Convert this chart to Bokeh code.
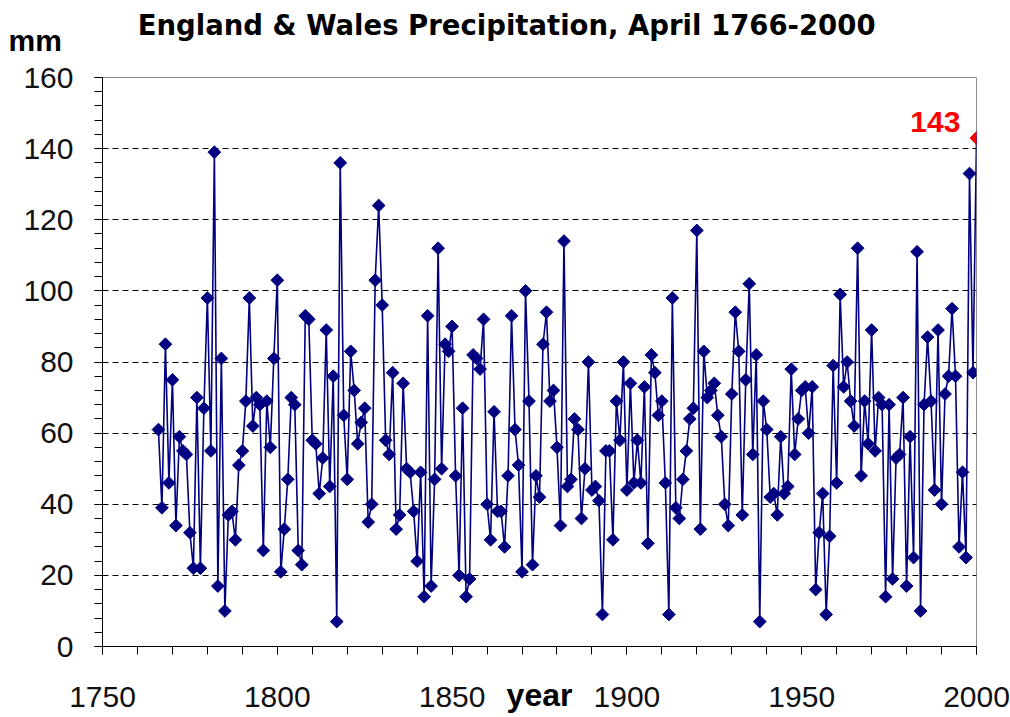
import math
from bokeh.plotting import figure
from bokeh.models import Range1d, FixedTicker, Label, ColumnDataSource
from bokeh.embed import file_html
from bokeh.resources import INLINE

# ---- data -------------------------------------------------------------
years = list(range(1766, 2001))
rain_mm = [
    61, 39, 85, 46,                                   # 1766-1769
    75, 34, 59, 55, 54, 32, 22, 70, 22, 67,           # 1770s
    98, 55, 139, 17, 81, 10, 37, 38, 30, 51,          # 1780s
    55, 69, 98, 62, 70, 68, 27, 69, 56, 81,           # 1790s
    103, 21, 33, 47, 70, 68, 27, 23, 93, 92,          # 1800s
    58, 57, 43, 53, 89, 45, 76, 7, 136, 65,           # 1810s
    47, 83, 72, 57, 63, 67, 35, 40, 103, 124,         # 1820s
    96, 58, 54, 77, 33, 37, 74, 50, 49, 38,           # 1830s
    24, 49, 14, 93, 17, 47, 112, 50, 85, 83,          # 1840s
    90, 48, 20, 67, 14, 19, 82, 81, 78, 92,           # 1850s
    40, 30, 66, 38, 38, 28, 48, 93, 61, 51,           # 1860s
    21, 100, 69, 23, 48, 42, 85, 94, 69, 72,          # 1870s
    56, 34, 114, 45, 47, 64, 61, 36, 50, 80,          # 1880s
    44, 45, 41, 9, 55, 55, 30, 69, 58, 80,            # 1890s
    44, 74, 46, 58, 46, 73, 29, 82, 77, 65,           # 1900s
    69, 46, 9, 98, 39, 36, 47, 55, 64, 67,            # 1910s
    117, 33, 83, 70, 72, 74, 65, 59, 40, 34,          # 1920s
    71, 94, 83, 37, 75, 102, 54, 82, 7, 69,           # 1930s
    61, 42, 43, 37, 59, 43, 45, 78, 54, 64,           # 1940s
    72, 73, 60, 73, 16, 32, 43, 9, 31, 79,            # 1950s
    46, 99, 73, 80, 69, 62, 112, 48, 69, 57,          # 1960s
    89, 55, 70, 68, 14, 68, 19, 53, 54, 70,           # 1970s
    17, 59, 25, 111, 10, 68, 87, 69, 44, 89,          # 1980s
    40, 71, 76, 95, 76, 28, 49, 25, 133, 77,          # 1990s
    143,                                              # 2000
]
x_major_ticks = [1750, 1800, 1850, 1900, 1950, 2000]
x_minor_ticks = list(range(1750, 2001, 10))
y_major_ticks = [0, 20, 40, 60, 80, 100, 120, 140, 160]
y_minor_ticks = list(range(0, 161, 4))
grid_levels = [20, 40, 60, 80, 100, 120, 140]

title_text = "England & Wales Precipitation, April 1766-2000"
y_unit_text = "mm"
x_label_text = "year"

# ---- figure -----------------------------------------------------------
NAVY = "#000080"
FONT = "Liberation Sans"

p = figure(width=1010, height=717, output_backend="svg", toolbar_location=None,
           title=None, x_range=Range1d(1750, 2000), y_range=Range1d(0, 160),
           min_border_left=102, min_border_right=34, min_border_top=77,
           min_border_bottom=71)
p.background_fill_color = "white"
p.border_fill_color = "white"
p.outline_line_color = "#8c8c8c"
p.outline_line_width = 1

# grid
p.xgrid.visible = False
p.ygrid.ticker = FixedTicker(ticks=grid_levels)
p.ygrid.grid_line_color = "black"
p.ygrid.grid_line_dash = "6 4"
p.ygrid.grid_line_width = 1

# axes
for ax in (p.xaxis[0], p.yaxis[0]):
    ax.axis_line_color = "black"
    ax.major_tick_line_color = "black"
    ax.minor_tick_line_color = "black"
    ax.major_tick_in = 0
    ax.minor_tick_in = 0
    ax.major_tick_out = 8
    ax.minor_tick_out = 8
    ax.major_label_text_font = FONT
    ax.major_label_text_font_size = "30px"
    ax.major_label_text_color = "#111111"

p.xaxis.ticker = FixedTicker(ticks=x_major_ticks, minor_ticks=x_minor_ticks)
p.yaxis.ticker = FixedTicker(ticks=y_major_ticks, minor_ticks=y_minor_ticks)
p.xaxis.major_label_standoff = 32
p.yaxis.major_label_standoff = 21

# x caption as the axis label, pulled up to the tick-label row
p.xaxis.axis_label = x_label_text
p.xaxis.axis_label_text_font = FONT
p.xaxis.axis_label_text_font_style = "bold"
p.xaxis.axis_label_text_font_size = "32px"
p.xaxis.axis_label_text_color = "black"
p.xaxis.axis_label_text_baseline = "middle"
p.xaxis.axis_label_standoff = -33

# series
src = ColumnDataSource(data=dict(year=years, mm=rain_mm))
p.line("year", "mm", source=src, line_color=NAVY, line_width=1.6)
p.scatter("year", "mm", source=src, marker="square", angle=math.pi / 4,
          size=9, fill_color=NAVY, line_color=NAVY)

# highlighted last value
last = ColumnDataSource(data=dict(year=[years[-1]], mm=[rain_mm[-1]]))
p.scatter("year", "mm", source=last, marker="square", angle=math.pi / 4,
          size=9, fill_color="#ff0000", line_color="#ff0000")
p.add_layout(Label(x=years[-1] - 4.6, y=rain_mm[-1] + 4.6, text=str(rain_mm[-1]),
                   text_align="right", text_baseline="alphabetic",
                   text_font=FONT, text_font_style="bold",
                   text_font_size="30px", text_color="#ff0000"))

# title and unit caption (placed in the top panel so they are not clipped)
p.add_layout(Label(x=1865.6, y=174.9, text=title_text, text_align="center",
                   text_baseline="alphabetic", text_font="DejaVu Sans",
                   text_font_style="bold", text_font_size="27.5px",
                   text_color="black"), "above")
p.add_layout(Label(x=1723.1, y=170.4, text=y_unit_text, text_align="left",
                   text_baseline="alphabetic", text_font=FONT,
                   text_font_style="bold", text_font_size="30px",
                   text_color="black"), "above")

open("out.html", "w").write(file_html(p, INLINE))
